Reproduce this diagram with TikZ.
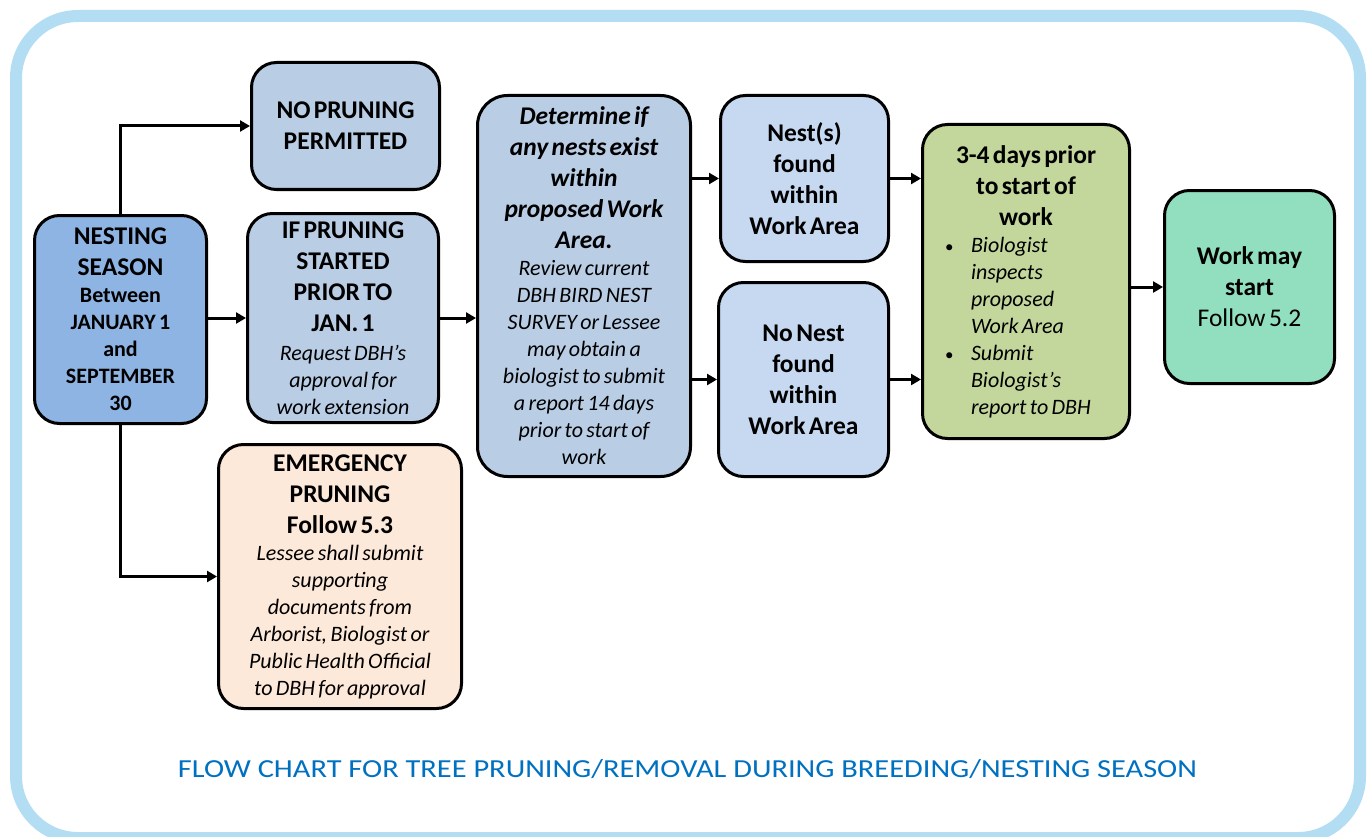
\documentclass[tikz,border=0pt]{standalone}
\usepackage{fontspec}
\usepackage{graphicx}
\setmainfont{Carlito}
\usetikzlibrary{arrows.meta}
\definecolor{framecol}{HTML}{B3DDF2}
\definecolor{darkblue}{HTML}{8EB4E3}
\definecolor{midblue}{HTML}{B9CDE5}
\definecolor{lightblue}{HTML}{C6D9F1}
\definecolor{peach}{HTML}{FDE9D9}
\definecolor{olive}{HTML}{C3D69B}
\definecolor{mint}{HTML}{92DFC0}
\definecolor{titleblue}{HTML}{0070C0}
\newcommand{\BigBold}{\fontsize{25.5}{31}\selectfont\bfseries}
\newcommand{\BigReg}{\fontsize{25.5}{31}\selectfont\mdseries\upshape}
\newcommand{\SmallBold}{\fontsize{22}{27}\selectfont\bfseries}
\newcommand{\SmallIt}{\fontsize{22}{27}\selectfont\mdseries\itshape}
\newcommand{\BigBoldIt}{\fontsize{25.5}{31}\selectfont\bfseries\itshape}
\newcommand{\MyBullet}{\noindent\llap{\makebox[26pt][l]{\upshape\fontsize{17}{27}\selectfont\textbullet}}}
\tikzset{
  box/.style={draw=black, line width=3pt, rounded corners=25pt, align=center, inner sep=0pt},
  arr/.style={line width=3pt, -{Triangle[length=10pt,width=11pt]}}
}
\begin{document}
\begin{tikzpicture}[x=1pt,y=-1pt]
\useasboundingbox (0,0) rectangle (1372,837);
\draw[line width=12pt, color=framecol, rounded corners=62pt] (16,16) rectangle (1360,838);

\node[box, fill=darkblue, minimum width=172pt, minimum height=208pt, text width=172pt] (nest) at (120.5,319.5)
  {\BigBold NESTING\\SEASON\par\SmallBold Between\\JANUARY 1\\and\\SEPTEMBER\\30\par};
\node[box, fill=midblue, minimum width=188pt, minimum height=127pt, text width=188pt] (nopr) at (345.5,126)
  {\BigBold NO PRUNING\\PERMITTED\par};
\node[box, fill=midblue, minimum width=191pt, minimum height=209pt, text width=191pt] (ifpr) at (343,318)
  {\BigBold IF PRUNING\\STARTED\\PRIOR TO\\JAN. 1\par\vspace{2pt}\SmallIt Request DBH’s\\approval for\\work extension\par};
\node[box, fill=peach, minimum width=243pt, minimum height=264pt, text width=243pt] (emerg) at (340,576.5)
  {\BigBold EMERGENCY\\PRUNING\\Follow 5.3\par\SmallIt Lessee shall submit\\supporting\\documents from\\Arborist, Biologist or\\Public Health Official\\to DBH for approval\par};
\node[box, fill=midblue, rounded corners=30pt, minimum width=213pt, minimum height=381pt, text width=213pt] (det) at (584,286)
  {\BigBoldIt Determine if\\any nests exist\\within\\proposed Work\\Area.\par\SmallIt Review current\\DBH BIRD NEST\\SURVEY or Lessee\\may obtain a\\biologist to submit\\a report 14 days\\prior to start of\\work\par};
\node[box, fill=lightblue, minimum width=168pt, minimum height=166pt, text width=168pt] (found) at (804.5,178.5)
  {\BigBold Nest(s)\\found\\within\\Work Area\par};
\node[box, fill=lightblue, minimum width=170pt, minimum height=194pt, text width=170pt] (nonest) at (803.5,379.5)
  {\BigBold No Nest\\found\\within\\Work Area\par};
\node[box, fill=olive, minimum width=207pt, minimum height=314pt, text width=170pt] (insp) at (1026,281.5)
  {\BigBold 3-4 days prior\\to start of\\work\par
   \raggedright\leftskip=30pt\SmallIt
   \MyBullet Biologist\\inspects\\proposed\\Work Area\par
   \MyBullet Submit\\Biologist’s\\report to DBH\par};
\node[box, fill=mint, minimum width=170pt, minimum height=193pt, text width=170pt] (work) at (1249.5,287)
  {\BigBold Work may\\start\par\BigReg Follow 5.2\par};

\node[text=titleblue, inner sep=0pt] (title) at (687.5,769)
  {\resizebox{1019pt}{\height}{\fontsize{26}{31}\selectfont FLOW CHART FOR TREE PRUNING/REMOVAL DURING BREEDING/NESTING SEASON}};

\draw[arr] (nest.north) |- (nopr.west);
\draw[arr] (nest.east |- ifpr.west) -- (ifpr.west);
\draw[arr] (nest.south) |- (emerg.west);
\draw[arr] (ifpr.east) -- (ifpr.east -| det.west);
\draw[arr] (det.east |- found.west) -- (found.west);
\draw[arr] (det.east |- nonest.west) -- (nonest.west);
\draw[arr] (found.east) -- (found.east -| insp.west);
\draw[arr] (nonest.east) -- (nonest.east -| insp.west);
\draw[arr] (insp.east |- work.west) -- (work.west);
\end{tikzpicture}
\end{document}
